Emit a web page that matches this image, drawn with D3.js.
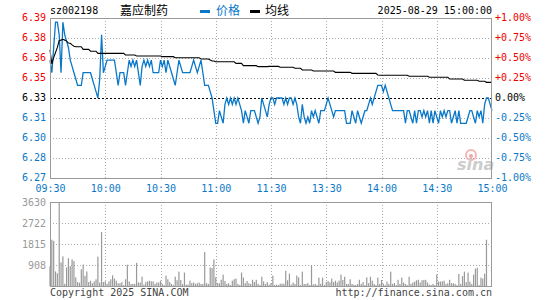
<!DOCTYPE html>
<html>
<head>
<meta charset="utf-8">
<script src="https://cdn.jsdelivr.net/npm/d3@7"></script>
<style>
  body { margin: 0; background: #fff; }
  svg text { font-family: "DejaVu Sans Mono", monospace; font-size: 10px; }
  .cjk { font-family: "Noto Sans CJK SC", sans-serif; font-size: 12px; }
</style>
</head>
<body>
<script>
// minute data for sz002198, 09:30-11:30 / 13:00-15:00
var code = "sz002198";
var title = "嘉应制药";
var stamp = "2025-08-29 15:00:00";
var prevClose = 6.33;

var price = [
  6.36,6.35,6.37,6.39,6.39,6.38,6.35,6.39,6.38,6.375,
  6.37,6.36,6.355,6.35,6.345,6.34,6.34,6.34,6.35,6.35,
  6.35,6.35,6.35,6.345,6.34,6.335,6.33,6.345,6.38,6.35,
  6.355,6.36,6.36,6.36,6.36,6.36,6.35,6.34,6.35,6.35,
  6.35,6.34,6.35,6.36,6.355,6.36,6.355,6.36,6.35,6.34,
  6.355,6.36,6.355,6.36,6.355,6.36,6.35,6.35,6.35,6.35,
  6.36,6.355,6.36,6.35,6.36,6.355,6.35,6.345,6.34,6.35,
  6.36,6.355,6.35,6.35,6.35,6.35,6.35,6.355,6.36,6.355,
  6.35,6.355,6.36,6.35,6.34,6.34,6.34,6.335,6.33,6.32,
  6.31,6.31,6.32,6.315,6.31,6.325,6.33,6.325,6.33,6.325,
  6.33,6.325,6.33,6.325,6.32,6.31,6.32,6.315,6.31,6.32,
  6.32,6.32,6.315,6.31,6.315,6.33,6.325,6.32,6.315,6.325,
  6.33,6.33,6.325,6.33,6.33,6.33,6.33,6.325,6.33,6.325,
  6.33,6.33,6.325,6.33,6.325,6.315,6.31,6.325,6.315,6.31,
  6.315,6.31,6.32,6.315,6.32,6.315,6.31,6.32,6.32,6.32,
  6.325,6.33,6.325,6.32,6.315,6.32,6.32,6.32,6.32,6.32,
  6.32,6.31,6.31,6.31,6.32,6.315,6.31,6.32,6.315,6.31,
  6.315,6.32,6.32,6.325,6.33,6.325,6.33,6.335,6.34,6.34,
  6.34,6.335,6.34,6.335,6.33,6.325,6.32,6.32,6.32,6.32,
  6.32,6.32,6.32,6.31,6.32,6.32,6.315,6.31,6.32,6.31,
  6.32,6.32,6.315,6.32,6.315,6.32,6.31,6.32,6.31,6.32,
  6.315,6.31,6.32,6.315,6.32,6.315,6.32,6.32,6.31,6.315,
  6.32,6.31,6.32,6.31,6.31,6.31,6.31,6.315,6.32,6.32,
  6.315,6.31,6.32,6.315,6.32,6.31,6.325,6.33,6.33,6.325,
  6.32
];

var avg = [
  6.368,6.357,6.362,6.366,6.370,6.3755,6.3758,6.3764,6.3758,6.375,
  6.3735,6.3733,6.372,6.371,6.3706,6.3706,6.3706,6.3706,6.3685,6.3685,
  6.3685,6.3685,6.367,6.367,6.367,6.367,6.3653,6.3653,6.3653,6.3653,
  6.3653,6.3653,6.3653,6.3653,6.3653,6.3653,6.3653,6.3653,6.3653,6.3653,
  6.3653,6.364,6.364,6.364,6.364,6.364,6.364,6.3632,6.3632,6.3632,
  6.3632,6.3632,6.3632,6.3632,6.3632,6.3632,6.3632,6.3632,6.3632,6.3632,
  6.3632,6.3627,6.3627,6.3627,6.3627,6.3627,6.3627,6.3627,6.3619,6.3619,
  6.3619,6.3619,6.3619,6.3619,6.3619,6.3619,6.3619,6.3619,6.3619,6.3619,
  6.3619,6.3619,6.3609,6.3609,6.3609,6.3609,6.3609,6.36,6.3593,6.3593,
  6.3587,6.3587,6.3587,6.3587,6.3587,6.3587,6.3587,6.3587,6.3587,6.3587,
  6.3587,6.3574,6.3574,6.3574,6.3574,6.3556,6.3556,6.3556,6.3556,6.3556,
  6.3556,6.3556,6.3556,6.3548,6.3548,6.3548,6.3548,6.3548,6.3548,6.355,
  6.355,6.355,6.355,6.355,6.355,6.3543,6.3543,6.3543,6.3543,6.3543,
  6.3543,6.3543,6.3543,6.3535,6.3535,6.3535,6.3535,6.3522,6.3522,6.3522,
  6.3522,6.3522,6.3522,6.3514,6.3514,6.3514,6.3514,6.3514,6.3514,6.3514,
  6.3514,6.3514,6.3514,6.3514,6.3514,6.3503,6.3503,6.3503,6.3503,6.3503,
  6.3503,6.3503,6.3503,6.3503,6.3495,6.3495,6.3495,6.3495,6.3495,6.3495,
  6.3495,6.3495,6.3495,6.3495,6.3495,6.3495,6.3495,6.3495,6.3482,6.348,
  6.348,6.348,6.348,6.348,6.348,6.348,6.348,6.348,6.348,6.348,
  6.348,6.348,6.348,6.348,6.348,6.3472,6.3472,6.3472,6.3472,6.3472,
  6.3472,6.3472,6.3472,6.3472,6.3472,6.3472,6.3464,6.3464,6.3464,6.3464,
  6.3464,6.3464,6.3464,6.3464,6.3464,6.3464,6.3464,6.345,6.345,6.345,
  6.345,6.345,6.345,6.345,6.345,6.344,6.344,6.344,6.344,6.344,
  6.344,6.344,6.344,6.3432,6.3432,6.3432,6.3432,6.3424,6.3424,6.3424,
  6.3424
];

var volume = [
  850,2000,1950,630,550,3630,1020,1280,95,800,
  1200,850,1150,1080,370,170,140,720,930,440,
  630,170,230,120,200,290,1270,150,2330,170,
  200,90,200,290,460,320,230,120,120,170,
  40,290,920,200,90,90,90,1000,150,150,
  400,60,170,200,230,200,200,90,150,150,
  230,90,40,450,290,170,90,40,400,250,
  620,260,80,580,60,60,230,120,150,90,
  120,150,90,90,1470,120,90,800,780,1150,
  380,120,120,270,490,215,90,120,40,230,
  290,320,90,40,580,370,120,215,120,90,
  270,170,270,90,40,400,200,90,170,60,
  130,450,40,60,40,100,100,100,660,245,
  530,60,150,90,450,370,40,620,90,90,
  120,40,900,70,90,40,360,100,360,40,
  170,215,160,320,170,230,150,230,490,260,
  400,90,90,290,90,60,40,90,270,90,
  170,40,370,120,400,230,90,40,360,90,
  260,100,40,190,90,620,90,130,40,270,
  90,360,150,90,40,400,90,150,190,245,
  270,150,245,260,270,150,60,40,90,40,
  500,190,190,200,230,90,120,270,120,120,
  90,40,520,90,430,620,170,580,190,90,
  490,750,790,40,360,320,530,2000,0,0,
  0
];

var timeLabels = ["09:30","10:00","10:30","11:00","11:30","13:30","14:00","14:30","15:00"];
var timeIndex = [0, 30, 60, 90, 120, 150, 180, 210, 240];
var pctSteps = [4, 3, 2, 1, 0, -1, -2, -3, -4];   // x 0.25%
var volTicks = [908, 1815, 2722, 3630];
var volMax = 3630;

var blue = "#0a78c8", red = "#f00000", gray = "#999";

var L = 50, R = 492;
var pT = 18, pB = 178, vT = 202, vB = 286;

var x = d3.scaleLinear().domain([0, price.length - 1]).range([L, R]);
var y = d3.scaleLinear()
    .domain([prevClose * 0.99, prevClose * 1.01])
    .range([pB, pT]);
var yv = d3.scaleLinear().domain([0, volMax]).range([vB, vT]);

var svg = d3.select("body").append("svg")
    .attr("width", 545).attr("height", 300);

var priceTicks = pctSteps.map(function(k) { return prevClose * (1 + k * 0.0025); });

function tickColor(k) { return k > 0 ? red : (k < 0 ? blue : "#000"); }

// grids
var grid = svg.append("g").attr("shape-rendering", "crispEdges");

grid.selectAll(".hg").data(pctSteps.filter(function(k) { return k != 0 && Math.abs(k) != 4; }))
  .enter().append("line")
    .attr("x1", L).attr("x2", R)
    .attr("y1", function(k) { return Math.round(y(prevClose * (1 + k * 0.0025))) + 0.5; })
    .attr("y2", function(k) { return Math.round(y(prevClose * (1 + k * 0.0025))) + 0.5; })
    .attr("stroke", "#aaa").attr("stroke-dasharray", "1,2");

grid.selectAll(".vhg").data(volTicks.slice(0, 3)).enter().append("line")
    .attr("x1", L).attr("x2", R)
    .attr("y1", function(d) { return Math.round(yv(d)) + 0.5; })
    .attr("y2", function(d) { return Math.round(yv(d)) + 0.5; })
    .attr("stroke", "#aaa").attr("stroke-dasharray", "1,2");

var inner = timeIndex.slice(1, timeIndex.length - 1);
[[pT, pB], [vT, vB]].forEach(function(p) {
  grid.selectAll(null).data(inner).enter().append("line")
    .attr("x1", function(i) { return Math.round(x(i)) + 0.5; })
    .attr("x2", function(i) { return Math.round(x(i)) + 0.5; })
    .attr("y1", p[0]).attr("y2", p[1])
    .attr("stroke", "#aaa").attr("stroke-dasharray", "1,2");
});

// prev close
grid.append("line")
    .attr("x1", L).attr("x2", R)
    .attr("y1", Math.round(y(prevClose)) + 0.5).attr("y2", Math.round(y(prevClose)) + 0.5)
    .attr("stroke", "#000").attr("stroke-dasharray", "2,2");

// watermark
var wm = svg.append("g").attr("opacity", 0.75);
wm.append("circle").attr("cx", 471).attr("cy", 155).attr("r", 5)
    .attr("fill", "none").attr("stroke", "#f0a0a0").attr("stroke-width", 2);
wm.append("circle").attr("cx", 471).attr("cy", 156).attr("r", 2).attr("fill", "#e88");
wm.append("text").attr("x", 457).attr("y", 170)
    .style("font-family", "DejaVu Sans").style("font-size", "16px")
    .style("font-weight", "bold").style("font-style", "italic")
    .attr("fill", "#bbb").text("sina");

// volume bars
svg.append("g").selectAll("rect").data(volume).enter().append("rect")
    .attr("x", function(d, i) { return x(i) - 0.6; })
    .attr("width", 1.2)
    .attr("y", function(d) { return yv(d); })
    .attr("height", function(d) { return vB - yv(d); })
    .attr("fill", gray);

// lines
svg.append("path").datum(price)
    .attr("fill", "none").attr("stroke", blue).attr("stroke-width", 1.3)
    .attr("d", d3.line().x(function(d, i) { return x(i); }).y(function(d) { return y(d); }));

svg.append("path").datum(avg)
    .attr("fill", "none").attr("stroke", "#000").attr("stroke-width", 1.1)
    .attr("d", d3.line().x(function(d, i) { return x(i); }).y(function(d) { return y(d); }));

// frames
svg.append("rect").attr("x", L + 0.5).attr("y", pT + 0.5)
    .attr("width", R - L - 1).attr("height", pB - pT)
    .attr("fill", "none").attr("stroke", gray).attr("shape-rendering", "crispEdges");
svg.append("rect").attr("x", L + 0.5).attr("y", vT + 0.5)
    .attr("width", R - L - 1).attr("height", vB - vT)
    .attr("fill", "none").attr("stroke", gray).attr("shape-rendering", "crispEdges");

// price axis (left) and percent axis (right)
var ax = svg.append("g").attr("transform", "translate(" + (L - 4) + ",-1)")
    .call(d3.axisLeft(y).tickValues(priceTicks).tickSize(0).tickPadding(0)
      .tickFormat(function(d) { return d.toFixed(2); }));
ax.select(".domain").remove();
ax.selectAll("text").attr("fill", function(d, i) { return tickColor(pctSteps[i]); })
    .style("font-family", "DejaVu Sans Mono").style("font-size", "10px");

var ar = svg.append("g").attr("transform", "translate(" + (R + 3) + ",-1)")
    .call(d3.axisRight(y).tickValues(priceTicks).tickSize(0).tickPadding(0)
      .tickFormat(function(d, i) {
        var k = pctSteps[i];
        return (k > 0 ? "+" : (k < 0 ? "-" : "")) + Math.abs(k * 0.25).toFixed(2) + "%";
      }));
ar.select(".domain").remove();
ar.selectAll("text").attr("fill", function(d, i) { return tickColor(pctSteps[i]); })
    .style("font-family", "DejaVu Sans Mono").style("font-size", "10px");

// volume axis
var av = svg.append("g").attr("transform", "translate(" + (L - 4) + ",0)")
    .call(d3.axisLeft(yv).tickValues(volTicks).tickSize(0).tickPadding(0)
      .tickFormat(d3.format("d")));
av.select(".domain").remove();
av.selectAll("text").attr("fill", gray)
    .style("font-family", "DejaVu Sans Mono").style("font-size", "10px");

// time axis
var at = svg.append("g").attr("transform", "translate(0," + (pB + 7) + ")")
    .call(d3.axisBottom(x).tickValues(timeIndex).tickSize(0).tickPadding(0)
      .tickFormat(function(d, i) { return timeLabels[i]; }));
at.select(".domain").remove();
at.selectAll("text").attr("fill", blue)
    .style("font-family", "DejaVu Sans Mono").style("font-size", "10px");

// header
svg.append("text").attr("x", L).attr("y", 14).attr("fill", "#000").text(code);
svg.append("text").attr("class", "cjk").attr("x", 120).attr("y", 15).attr("fill", "#000").text(title);
svg.append("rect").attr("x", 200).attr("y", 10).attr("width", 10).attr("height", 3).attr("fill", blue);
svg.append("text").attr("class", "cjk").attr("x", 216).attr("y", 15).attr("fill", blue).text("价格");
svg.append("rect").attr("x", 250).attr("y", 10).attr("width", 10).attr("height", 3).attr("fill", "#000");
svg.append("text").attr("class", "cjk").attr("x", 265).attr("y", 15).attr("fill", "#000").text("均线");
svg.append("text").attr("x", R).attr("y", 14).attr("text-anchor", "end").attr("fill", "#000").text(stamp);

// footer
svg.append("text").attr("x", L).attr("y", 296).attr("fill", "#444").text("Copyright 2025 SINA.COM");
svg.append("text").attr("x", R).attr("y", 296).attr("text-anchor", "end").attr("fill", "#444")
    .text("http://finance.sina.com.cn");
</script>
</body>
</html>
